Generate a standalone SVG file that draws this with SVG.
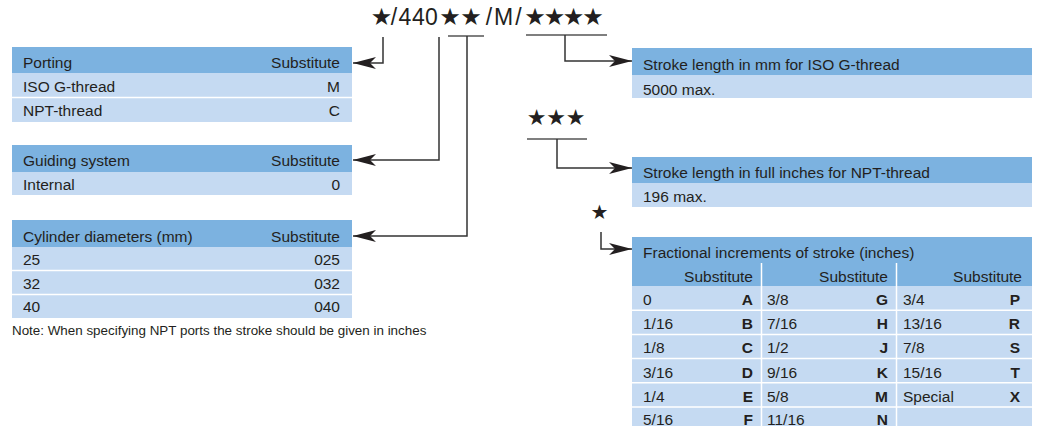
<svg xmlns="http://www.w3.org/2000/svg" width="1038" height="426" viewBox="0 0 1038 426">
<style>
.hd{fill:#7cb2e0}
.rw{fill:#c5daf2}
.sep{stroke:#ffffff;stroke-width:1.5;fill:none}
.t{font-family:"Liberation Sans",Arial,sans-serif;font-size:15.5px;fill:#231f20}
.r{text-anchor:end}
.b{font-weight:bold}
.codeline{text-anchor:middle;fill:#231f20}
.code{font-family:"Liberation Sans",Arial,sans-serif;font-size:23px}
.star{font-family:"DejaVu Sans",sans-serif;fill:#231f20;text-anchor:middle}
.note{font-family:"Liberation Sans",Arial,sans-serif;font-size:13.4px;fill:#231f20}
.ln{stroke:#333333;stroke-width:1.5;fill:none}
.bar{stroke:#555555;stroke-width:1.5;fill:none}
</style>
<defs>
<marker id="ah" markerUnits="userSpaceOnUse" viewBox="-24 -8 26 16" refX="0" refY="0" markerWidth="26" markerHeight="16" orient="auto">
<path d="M0,0 L-23,-6 L-17,0 L-23,6 Z" fill="#231f20"/>
</marker>
</defs>

<g id="code">
<text class="codeline" y="25"><tspan class="star" font-size="24" x="381.5">★</tspan><tspan class="code" x="394 405 418.5 431.5">/440</tspan><tspan class="star" font-size="24" x="450 471">★★</tspan><tspan class="code" x="489 503.5 518.5">/M/</tspan><tspan class="star" font-size="24" x="535 554.5 573.5 593">★★★★</tspan></text>
</g>

<g id="porting">
<rect class="hd" x="12" y="47" width="340" height="26"/>
<rect class="rw" x="12" y="73" width="340" height="49"/>
<line class="sep" x1="12" y1="97.5" x2="352" y2="97.5"/>
<text class="t" x="23" y="68">Porting</text>
<text class="t r" x="340" y="68">Substitute</text>
<text class="t" x="23" y="91.5">ISO G-thread</text>
<text class="t r" x="340" y="91.5">M</text>
<text class="t" x="23" y="116">NPT-thread</text>
<text class="t r" x="340" y="116">C</text>
</g>

<g id="guiding">
<rect class="hd" x="12" y="145" width="340" height="27"/>
<rect class="rw" x="12" y="172" width="340" height="23"/>
<text class="t" x="23" y="166">Guiding system</text>
<text class="t r" x="340" y="166">Substitute</text>
<text class="t" x="23" y="190">Internal</text>
<text class="t r" x="340" y="190">0</text>
</g>

<g id="cylinder">
<rect class="hd" x="12" y="220" width="340" height="27"/>
<rect class="rw" x="12" y="247" width="340" height="71"/>
<line class="sep" x1="12" y1="270.5" x2="352" y2="270.5"/>
<line class="sep" x1="12" y1="294.5" x2="352" y2="294.5"/>
<text class="t" x="23" y="242">Cylinder diameters (mm)</text>
<text class="t r" x="340" y="242">Substitute</text>
<text class="t" x="23" y="265">25</text>
<text class="t r" x="340" y="265">025</text>
<text class="t" x="23" y="289">32</text>
<text class="t r" x="340" y="289">032</text>
<text class="t" x="23" y="312">40</text>
<text class="t r" x="340" y="312">040</text>
</g>

<g id="note">
<text class="note" x="12" y="335">Note: When specifying NPT ports the stroke should be given in inches</text>
</g>

<g id="stroke-iso">
<rect class="hd" x="632" y="48" width="400" height="27"/>
<rect class="rw" x="632" y="75" width="400" height="23"/>
<text class="t" x="643" y="70">Stroke length in mm for ISO G-thread</text>
<text class="t" x="643" y="94.5">5000 max.</text>
</g>

<g id="npt-stars">
<text class="star" font-size="22" x="536.5 556 575.5" y="125">★★★</text>
</g>

<g id="stroke-npt">
<rect class="hd" x="632" y="157" width="400" height="26"/>
<rect class="rw" x="632" y="183" width="400" height="24"/>
<text class="t" x="643" y="178">Stroke length in full inches for NPT-thread</text>
<text class="t" x="643" y="201.5">196 max.</text>
</g>

<g id="frac-star">
<text class="star" font-size="20" x="599.5" y="218.5">★</text>
</g>

<g id="fractional">
<rect class="hd" x="632" y="237" width="400" height="49"/>
<rect class="rw" x="632" y="286" width="400" height="140"/>
<line class="sep" x1="761.5" y1="263" x2="761.5" y2="426"/>
<line class="sep" x1="896.5" y1="263" x2="896.5" y2="426"/>
<line class="sep" x1="632" y1="310.2" x2="1032" y2="310.2"/>
<line class="sep" x1="632" y1="334.4" x2="1032" y2="334.4"/>
<line class="sep" x1="632" y1="358.6" x2="1032" y2="358.6"/>
<line class="sep" x1="632" y1="382.8" x2="1032" y2="382.8"/>
<line class="sep" x1="632" y1="407" x2="1032" y2="407"/>
<text class="t" x="643" y="258">Fractional increments of stroke (inches)</text>
<text class="t r" x="753" y="281.5">Substitute</text>
<text class="t r" x="888" y="281.5">Substitute</text>
<text class="t r" x="1022" y="281.5">Substitute</text>

<text class="t" x="643" y="305">0</text><text class="t r b" x="753" y="305">A</text>
<text class="t" x="767" y="305">3/8</text><text class="t r b" x="888" y="305">G</text>
<text class="t" x="903" y="305">3/4</text><text class="t r b" x="1020" y="305">P</text>

<text class="t" x="643" y="329.2">1/16</text><text class="t r b" x="753" y="329.2">B</text>
<text class="t" x="767" y="329.2">7/16</text><text class="t r b" x="888" y="329.2">H</text>
<text class="t" x="903" y="329.2">13/16</text><text class="t r b" x="1020" y="329.2">R</text>

<text class="t" x="643" y="353.4">1/8</text><text class="t r b" x="753" y="353.4">C</text>
<text class="t" x="767" y="353.4">1/2</text><text class="t r b" x="888" y="353.4">J</text>
<text class="t" x="903" y="353.4">7/8</text><text class="t r b" x="1020" y="353.4">S</text>

<text class="t" x="643" y="377.6">3/16</text><text class="t r b" x="753" y="377.6">D</text>
<text class="t" x="767" y="377.6">9/16</text><text class="t r b" x="888" y="377.6">K</text>
<text class="t" x="903" y="377.6">15/16</text><text class="t r b" x="1020" y="377.6">T</text>

<text class="t" x="643" y="401.8">1/4</text><text class="t r b" x="753" y="401.8">E</text>
<text class="t" x="767" y="401.8">5/8</text><text class="t r b" x="888" y="401.8">M</text>
<text class="t" x="903" y="401.8">Special</text><text class="t r b" x="1020" y="401.8">X</text>

<text class="t" x="643" y="425">5/16</text><text class="t r b" x="753" y="425">F</text>
<text class="t" x="767" y="425">11/16</text><text class="t r b" x="888" y="425">N</text>
</g>

<g id="connectors">
<line class="bar" x1="448" y1="36" x2="484" y2="36"/>
<line class="bar" x1="526" y1="35" x2="607" y2="35"/>
<line class="bar" x1="527" y1="139" x2="587" y2="139"/>
<polyline class="ln" points="383,37 383,63 353,63" marker-end="url(#ah)"/>
<polyline class="ln" points="439,37 439,160 353,160" marker-end="url(#ah)"/>
<polyline class="ln" points="467,36 467,236 353,236" marker-end="url(#ah)"/>
<polyline class="ln" points="565,35 565,61 632,61" marker-end="url(#ah)"/>
<polyline class="ln" points="557,139 557,168 632,168" marker-end="url(#ah)"/>
<polyline class="ln" points="601,232 601,249 632,249" marker-end="url(#ah)"/>
</g>
</svg>
